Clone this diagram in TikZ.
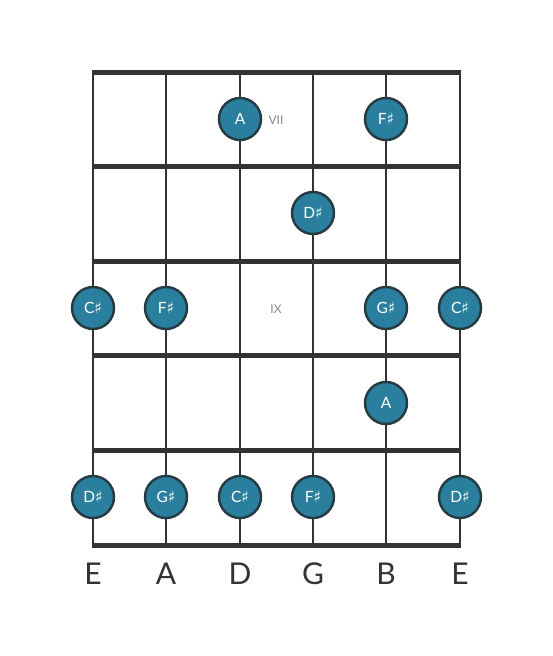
\documentclass[tikz,border=0pt]{standalone}
\usepackage{fontspec}
\setmainfont{Lato}
\newfontfamily\symfont{DejaVu Sans}
\newcommand{\shp}{{\symfont\char"266F}}
\definecolor{notefill}{HTML}{2A7F9E}
\definecolor{noteedge}{HTML}{263A42}
\definecolor{linec}{HTML}{333333}
\definecolor{markc}{HTML}{888888}
\begin{document}
\begin{tikzpicture}[x=1pt,y=-1pt,
  fretline/.style={line width=5pt,color=linec},
  stringline/.style={line width=2.8pt,color=linec},
  note/.style={circle,fill=notefill,draw=noteedge,line width=2.4pt,minimum size=42pt,inner sep=0pt,text=white,font=\fontsize{15.5}{15.5}\selectfont},
  marker/.style={text=markc,font=\fontsize{12}{12}\selectfont},
  strlabel/.style={text=linec,font=\fontsize{30}{30}\selectfont}]
\useasboundingbox (0,0) rectangle (553,656);
\fill[white] (0,0) rectangle (553,656);
\foreach \x/\n in {93/s1,166/s2,240/s3,313/s4,386/s5,460/s6} {
  \coordinate (\n t) at (\x,72);
  \coordinate (\n b) at (\x,545);
  \draw[stringline] (\n t) -- (\n b);
}
\foreach \y/\n in {72/f0,166/f1,261/f2,355/f3,450/f4,545/f5} {
  \coordinate (\n l) at (91.6,\y);
  \coordinate (\n r) at (461.4,\y);
  \draw[fretline] (\n l) -- (\n r);
}
\node[marker] (m7) at (276,120) {VII};
\node[marker] (m9) at (276,309) {IX};
\node[note] (n1) at (240,119) {A};
\node[note] (n2) at (386,119) {F\shp};
\node[note] (n3) at (313,213) {D\shp};
\node[note] (n4) at (93,308) {C\shp};
\node[note] (n5) at (166,308) {F\shp};
\node[note] (n6) at (386,308) {G\shp};
\node[note] (n7) at (460,308) {C\shp};
\node[note] (n8) at (386,403) {A};
\node[note] (n9) at (93,497) {D\shp};
\node[note] (n10) at (166,497) {G\shp};
\node[note] (n11) at (240,497) {C\shp};
\node[note] (n12) at (313,497) {F\shp};
\node[note] (n13) at (460,497) {D\shp};
\foreach \x/\t/\n in {93/E/l1,166/A/l2,240/D/l3,313/G/l4,386/B/l5,460/E/l6}
  \node[strlabel] (\n) at (\x,574) {\t};
\end{tikzpicture}
\end{document}
